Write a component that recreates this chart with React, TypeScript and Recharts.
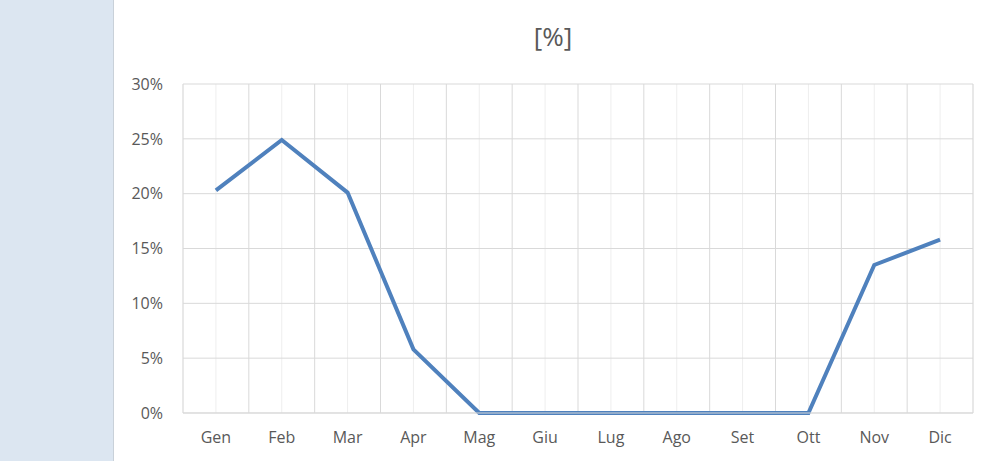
import React from 'react';
import { LineChart, Line, XAxis, YAxis, CartesianGrid } from 'recharts';

const months = ['Gen', 'Feb', 'Mar', 'Apr', 'Mag', 'Giu', 'Lug', 'Ago', 'Set', 'Ott', 'Nov', 'Dic'];
const share = [0.203, 0.249, 0.201, 0.058, 0, 0, 0, 0, 0, 0, 0.135, 0.158];
const yTicks = [0, 0.05, 0.1, 0.15, 0.2, 0.25, 0.3];

const data = months.map((m, i) => ({ month: m, value: share[i] }));

const W = 989;
const H = 461;
const margin = { top: 84, right: 16, bottom: 0, left: 0 };
const plotW = 790;
const half = plotW / 24;

const tickStyle = { fontSize: 16, fill: '#595959', fontFamily: 'Open Sans, sans-serif' };

export default function App() {
  return (
    <div style={{ position: 'fixed', left: 0, top: 0, width: W, height: H, background: '#fff', overflow: 'hidden' }}>
      <div
        style={{
          position: 'absolute',
          left: 0,
          top: 0,
          width: 113,
          height: H,
          background: '#dce6f1',
          borderRight: '1px solid #c9d1d9',
        }}
      />
      <div
        style={{
          position: 'absolute',
          left: 453,
          width: 200,
          top: 18,
          textAlign: 'center',
          fontFamily: 'Open Sans, sans-serif',
          fontSize: 26,
          color: '#595959',
        }}
      >
        [%]
      </div>
      <div style={{ position: 'absolute', left: 0, top: 0 }}>
        <LineChart width={W} height={H} data={data} margin={margin}>
          <CartesianGrid horizontal={false} stroke="#eeeeee" />
          <CartesianGrid
            stroke="#d9d9d9"
            verticalCoordinatesGenerator={({ offset }: any) =>
              months.map((_, i) => offset.left + (i * offset.width) / months.length).concat(offset.left + offset.width)
            }
          />
          <XAxis
            dataKey="month"
            padding={{ left: half, right: half }}
            height={48}
            tick={tickStyle}
            tickLine={false}
            axisLine={{ stroke: '#d9d9d9' }}
            tickMargin={13}
            interval={0}
          />
          <YAxis
            width={183}
            domain={[0, 0.3]}
            ticks={yTicks}
            tickFormatter={(v: number) => `${Math.round(v * 100)}%`}
            tick={tickStyle}
            tickLine={false}
            axisLine={false}
            tickMargin={14}
          />
          <Line
            type="linear"
            dataKey="value"
            stroke="#4f81bd"
            strokeWidth={4}
            dot={false}
            isAnimationActive={false}
          />
        </LineChart>
      </div>
    </div>
  );
}
